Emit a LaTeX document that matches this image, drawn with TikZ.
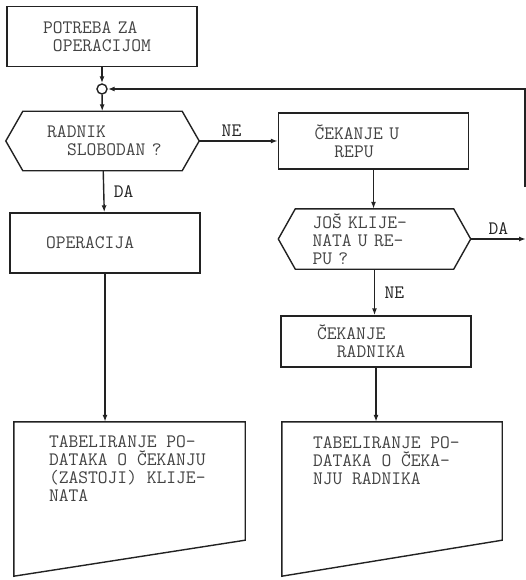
\documentclass[tikz,border=0pt]{standalone}
\usepackage{fontspec}
\usepackage{tikz}
\usetikzlibrary{arrows.meta, positioning, calc}
\definecolor{ink}{HTML}{222222}

\begin{document}
\begin{tikzpicture}[
  x=1pt, y=-1pt,
  box/.style={draw=ink, line width=1.4pt, minimum height=60pt,
              text width=118pt, inner xsep=36pt, align=left,
              font=\ttfamily\fontsize{19}{18}\selectfont, text=ink!85},
  hex/.style={minimum height=59pt, align=left,
              font=\ttfamily\fontsize{19}{18}\selectfont, text=ink!85},
  tab/.style={minimum height=154pt, inner sep=0pt},
  txt/.style={inner sep=0pt, align=left,
              font=\ttfamily\fontsize{19}{18}\selectfont, text=ink!85},
  lbl/.style={font=\ttfamily\fontsize{19}{18}\selectfont, text=ink},
  arr/.style={-{Latex[length=7pt, width=5pt]}, line width=1.4pt, draw=ink}
]
  \useasboundingbox (0,0) rectangle (526,580);

  % Arrival
  \node[box] (need) at (102,36.5) {POTREBA ZA\\\hspace*{0.525em}OPERACIJOM};
  \node[circle, draw=ink, line width=1.4pt, minimum size=10pt, inner sep=0pt]
    (join) at (102,89) {};

  % Left branch
  \node[hex, text width=122pt, inner xsep=35.5pt]
    (free) at (102.5,141) {\hspace*{0.3em}RADNIK\\\hspace*{1.35em}SLOBODAN ?};
  \node[box] (op) at (105,243) {OPERACIJA};
  \node[tab, minimum width=231pt] (tabc) at (129.5,499) {};
  \node[txt, anchor=north west] (tabctext) at ([shift={(35pt,-14pt)}]tabc.north west)
    {TABELIRANJE PO-\\DATAKA O ČEKANJU\\(ZASTOJI) KLIJE-\\NATA};

  % Right branch
  \node[box, minimum height=56pt]
    (queue) at (373.5,141) {ČEKANJE U\\\hspace*{1.05em}REPU};
  \node[hex, minimum height=60pt, text width=124pt, inner xsep=34pt]
    (more) at (374.5,239) {JOŠ KLIJE-\\NATA U RE-\\PU ?};
  \node[box, minimum height=51pt]
    (waitw) at (376,341.5) {ČEKANJE\\\hspace*{1.05em}RADNIKA};
  \node[tab, minimum width=220pt] (tabw) at (392,499) {};
  \node[txt, anchor=north west] (tabwtext) at ([shift={(31pt,-15pt)}]tabw.north west)
    {TABELIRANJE PO-\\DATAKA O ČEKA-\\NJU RADNIKA};

  \coordinate (yes) at (526,239);
  \coordinate (back) at (525,187);

  % Outlines
  \foreach \n in {free, more}
    \draw[draw=ink, line width=1.4pt] (\n.west) -- ([xshift=17pt]\n.north west)
      -- ([xshift=-17pt]\n.north east) -- (\n.east)
      -- ([xshift=-17pt]\n.south east) -- ([xshift=17pt]\n.south west) -- cycle;
  \foreach \n in {tabc, tabw}
    \draw[draw=ink, line width=1.4pt] (\n.north west) -- (\n.north east)
      -- ([yshift=36pt]\n.south east) -- (\n.south west) -- cycle;

  % Flow
  \draw[arr] (need) -- (join);
  \draw[arr] (join) -- (free);
  \draw[arr] (free) -- node[lbl, right=6pt] {DA} (op);
  \draw[arr] (free) -- node[lbl, above, xshift=-7pt] {NE} (queue);
  \draw[arr] (queue.south) -- (queue.south |- more.north);
  \draw[arr] (more.south) -- node[lbl, right=6pt] {NE} (more.south |- waitw.north);
  \draw[arr] (more.east) -- node[lbl, above] {DA} (yes);
  \draw[arr] (back) |- (join);
  \draw[arr] (op.south) -- (op.south |- tabc.north);
  \draw[arr] (waitw.south) -- (waitw.south |- tabw.north);
\end{tikzpicture}
\end{document}
